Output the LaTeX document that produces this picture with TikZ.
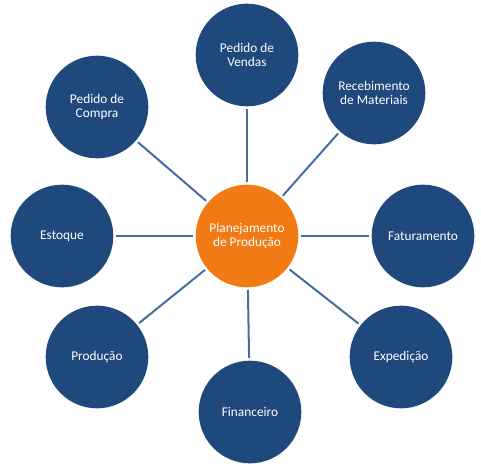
\documentclass[tikz,border=0pt]{standalone}
\usepackage{fontspec}
\setmainfont{Carlito}
\usepackage{xcolor}
\definecolor{modblue}{RGB}{31,72,124}
\definecolor{huborange}{RGB}{242,122,20}
\definecolor{linkblue}{RGB}{70,108,160}

\begin{document}
\begin{tikzpicture}[
    x=0.75pt, y=-0.75pt,
    modulo/.style={circle,fill=modblue,text=white,minimum size=77pt,inner sep=0pt,
        outer sep=2pt,align=center,font=\fontsize{10}{11}\selectfont},
    hub/.style={modulo,fill=huborange},
    link/.style={draw=linkblue,line width=1.5pt}
]
\useasboundingbox (0,0) rectangle (481,468);
% Centro
\node[hub] (plan) at (247,236) {Planejamento\\de Produção};
% Modulos ao redor
\node[modulo] (vendas) at (247,55) {Pedido de\\Vendas};
\node[modulo] (receb) at (374,93) {Recebimento\\de Materiais};
\node[modulo] (fatur) at (423,236) {Faturamento};
\node[modulo] (exped) at (401,357) {Expedição};
\node[modulo] (financ) at (250,412) {Financeiro};
\node[modulo] (prod) at (97,357) {Produção};
\node[modulo] (estoq) at (62,236) {Estoque};
\node[modulo] (compra) at (97,107) {Pedido de\\Compra};
% Ligacoes
\foreach \m in {vendas,receb,fatur,exped,financ,prod,estoq,compra}
    \draw[link] (plan) -- (\m);
\end{tikzpicture}
\end{document}
